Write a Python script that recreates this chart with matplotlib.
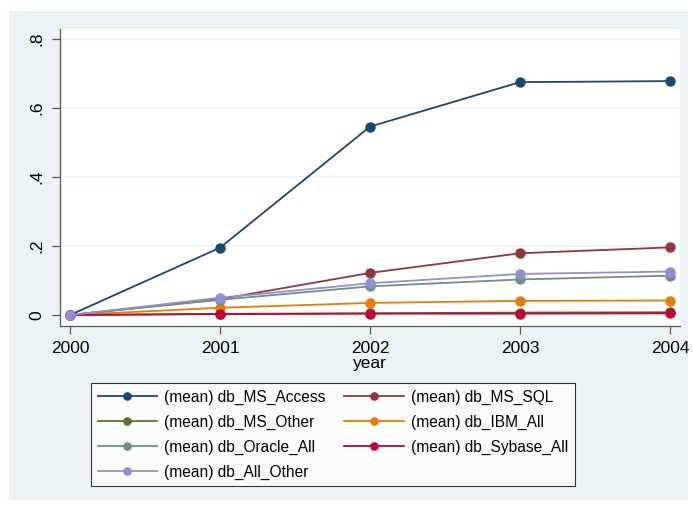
import matplotlib
matplotlib.use("Agg")
import matplotlib.pyplot as plt
from matplotlib.patches import Rectangle

plt.rcParams['font.family'] = ['Liberation Sans', 'DejaVu Sans']

# data
years = [2000, 2001, 2002, 2003, 2004]
db_MS_Access = [0.0, 0.195, 0.546, 0.675, 0.678]
db_MS_SQL = [0.0, 0.046, 0.122, 0.179, 0.196]
db_MS_Other = [0.0, 0.003, 0.005, 0.007, 0.008]
db_IBM_All = [0.0, 0.021, 0.035, 0.041, 0.042]
db_Oracle_All = [0.0, 0.044, 0.083, 0.103, 0.114]
db_Sybase_All = [0.0, 0.003, 0.004, 0.004, 0.005]
db_All_Other = [0.0, 0.050, 0.092, 0.119, 0.126]

series = [
    ("(mean) db_MS_Access", db_MS_Access, "#1a476f"),
    ("(mean) db_MS_SQL", db_MS_SQL, "#90353b"),
    ("(mean) db_MS_Other", db_MS_Other, "#55752f"),
    ("(mean) db_IBM_All", db_IBM_All, "#e37e00"),
    ("(mean) db_Oracle_All", db_Oracle_All, "#6e8e84"),
    ("(mean) db_Sybase_All", db_Sybase_All, "#c10534"),
    ("(mean) db_All_Other", db_All_Other, "#938dd2"),
]

bg = "#eaf2f3"
W, H = 693, 505
fig = plt.figure(figsize=(W / 100, H / 100), dpi=100)
fig.patch.set_facecolor("white")
fig.patches.append(Rectangle((9 / W, 1 - 500 / H), 679 / W, 489 / H,
                             transform=fig.transFigure, facecolor=bg,
                             edgecolor="none", zorder=-10))

ax = fig.add_axes([60 / W, 1 - 325.7 / H, 620 / W, 296.7 / H])
ax.set_facecolor("white")

handles = {}
for name, vals, col in series:
    h, = ax.plot(years, vals, color=col, lw=1.3, marker="o", ms=6.5,
                 mec=col, mfc=col, label=name)
    handles[name] = h

ax.set_xlim(2000 - 10 / 150, 2004 + 10 / 150)
ax.set_ylim(-0.031, 0.829)
ax.set_xticks(years)
ax.set_yticks([0, 0.2, 0.4, 0.6, 0.8])
ax.set_yticklabels(["0", ".2", ".4", ".6", ".8"], rotation=90, va="center")
ax.tick_params(labelsize=12.5, color="#555555", length=6, width=0.9, pad=5)
ax.grid(axis="y", color=bg, lw=1.2)
ax.set_axisbelow(True)
for s in ["top", "right"]:
    ax.spines[s].set_visible(False)
for s in ["left", "bottom"]:
    ax.spines[s].set_color("#555555")
    ax.spines[s].set_linewidth(0.9)
ax.set_xlabel("year", fontsize=12.5, labelpad=0)

# legend in row order (two columns)
order = ["(mean) db_MS_Access", "(mean) db_MS_Other", "(mean) db_Oracle_All",
         "(mean) db_All_Other", "(mean) db_MS_SQL", "(mean) db_IBM_All",
         "(mean) db_Sybase_All"]
leg = fig.legend([handles[k] for k in order], order, ncol=2,
                 loc="upper left", bbox_to_anchor=(91 / W, 1 - 383 / H),
                 borderaxespad=0, fontsize=11.2, frameon=True, fancybox=False,
                 edgecolor="black", handlelength=3.8, handletextpad=0.5,
                 columnspacing=1.2, labelspacing=0.64, borderpad=0.42,
                 markerscale=0.8)
leg.get_frame().set_linewidth(0.8)

fig.savefig("out.png", dpi=100, facecolor=fig.get_facecolor())
